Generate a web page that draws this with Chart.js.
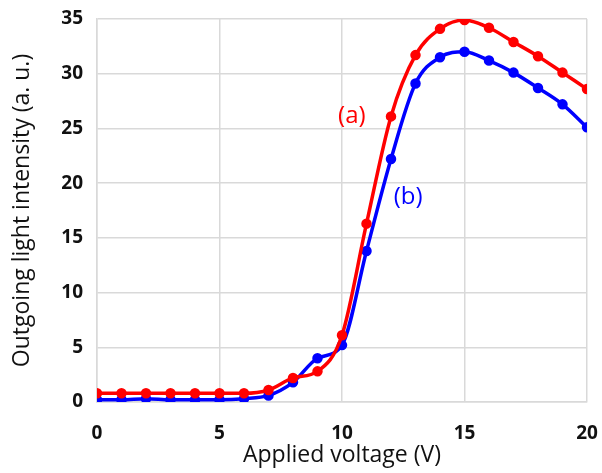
<!DOCTYPE html>
<html>
<head>
<meta charset="utf-8">
<script src="https://cdn.jsdelivr.net/npm/chart.js@4.4.0/dist/chart.umd.min.js"></script>
<style>
  html, body { margin: 0; padding: 0; background: #fff; }
  #wrap { width: 602px; height: 473px; }
</style>
</head>
<body>
<div id="wrap"><canvas id="chart" width="602" height="473"></canvas></div>
<script>
const voltages = [0,1,2,3,4,5,6,7,8,9,10,11,12,13,14,15,16,17,18,19,20];
const seriesA = [0.8,0.8,0.8,0.8,0.8,0.8,0.8,1.1,2.2,2.8,6.1,16.3,26.1,31.7,34.1,34.9,34.2,32.9,31.6,30.1,28.6];
const seriesB = [0.2,0.2,0.3,0.2,0.2,0.2,0.3,0.6,1.8,4.0,5.2,13.8,22.2,29.1,31.5,32.0,31.2,30.1,28.7,27.2,25.1];
const xTicks = [0,5,10,15,20];
const yTicks = [0,5,10,15,20,25,30,35];
const curveLabels = [
    { text: '(a)', x: 10.4, y: 26.1, color: '#ff0000' },
    { text: '(b)', x: 12.7, y: 18.7, color: '#0000ff' }
];

const FONT = "'Open Sans', 'Noto Sans', sans-serif";

const labelPlugin = {
    id: 'curveLabels',
    afterDatasetsDraw(chart) {
        const ctx = chart.ctx;
        const xs = chart.scales.x, ys = chart.scales.y;
        ctx.save();
        ctx.font = '24px ' + FONT;
        ctx.textAlign = 'center';
        ctx.textBaseline = 'middle';
        curveLabels.forEach(l => {
            ctx.fillStyle = l.color;
            ctx.fillText(l.text, xs.getPixelForValue(l.x), ys.getPixelForValue(l.y));
        });
        ctx.restore();
    }
};

function makeSet(data, color) {
    return {
        data: data.map((v, i) => ({ x: voltages[i], y: v })),
        borderColor: color,
        backgroundColor: color,
        borderWidth: 3.5,
        pointRadius: 3.5,
        pointHoverRadius: 3.5,
        cubicInterpolationMode: 'monotone'
    };
}

// the scales' own label overflow padding is dropped so layout.padding sets the plot edges
function noPad(s) {
    s.paddingLeft = 0; s.paddingRight = 0; s.paddingTop = 0; s.paddingBottom = 0;
}

new Chart(document.getElementById('chart').getContext('2d'), {
    type: 'line',
    data: { datasets: [makeSet(seriesA, '#ff0000'), makeSet(seriesB, '#0000ff')] },
    options: {
        responsive: false,
        animation: false,
        layout: { padding: { top: 19, right: 15, left: 5, bottom: 0 } },
        plugins: { legend: { display: false }, tooltip: { enabled: false } },
        scales: {
            x: {
                type: 'linear',
                min: 0, max: 20,
                afterBuildTicks: s => { s.ticks = xTicks.map(v => ({ value: v })); },
                afterFit: s => { s.height = 71; noPad(s); },
                grid: { color: '#d9d9d9', lineWidth: 1.5, drawTicks: false },
                border: { color: '#d9d9d9', width: 1.5 },
                ticks: { color: '#111', padding: 20, font: { family: FONT, size: 19, weight: 'bold' }, maxRotation: 0 },
                title: { display: true, text: 'Applied voltage (V)', color: '#111', padding: { top: 0 }, font: { family: FONT, size: 23 } }
            },
            y: {
                min: 0, max: 35,
                afterBuildTicks: s => { s.ticks = yTicks.map(v => ({ value: v })); },
                afterFit: s => { s.width = 92; noPad(s); },
                grid: { color: '#d9d9d9', lineWidth: 1.5, drawTicks: false },
                border: { color: '#d9d9d9', width: 1.5 },
                ticks: { color: '#111', padding: 14, font: { family: FONT, size: 19, weight: 'bold' } },
                title: { display: true, text: 'Outgoing light intensity (a. u.)', color: '#111', padding: { bottom: 2 }, font: { family: FONT, size: 23 } }
            }
        }
    },
    plugins: [labelPlugin]
});
</script>
</body>
</html>
